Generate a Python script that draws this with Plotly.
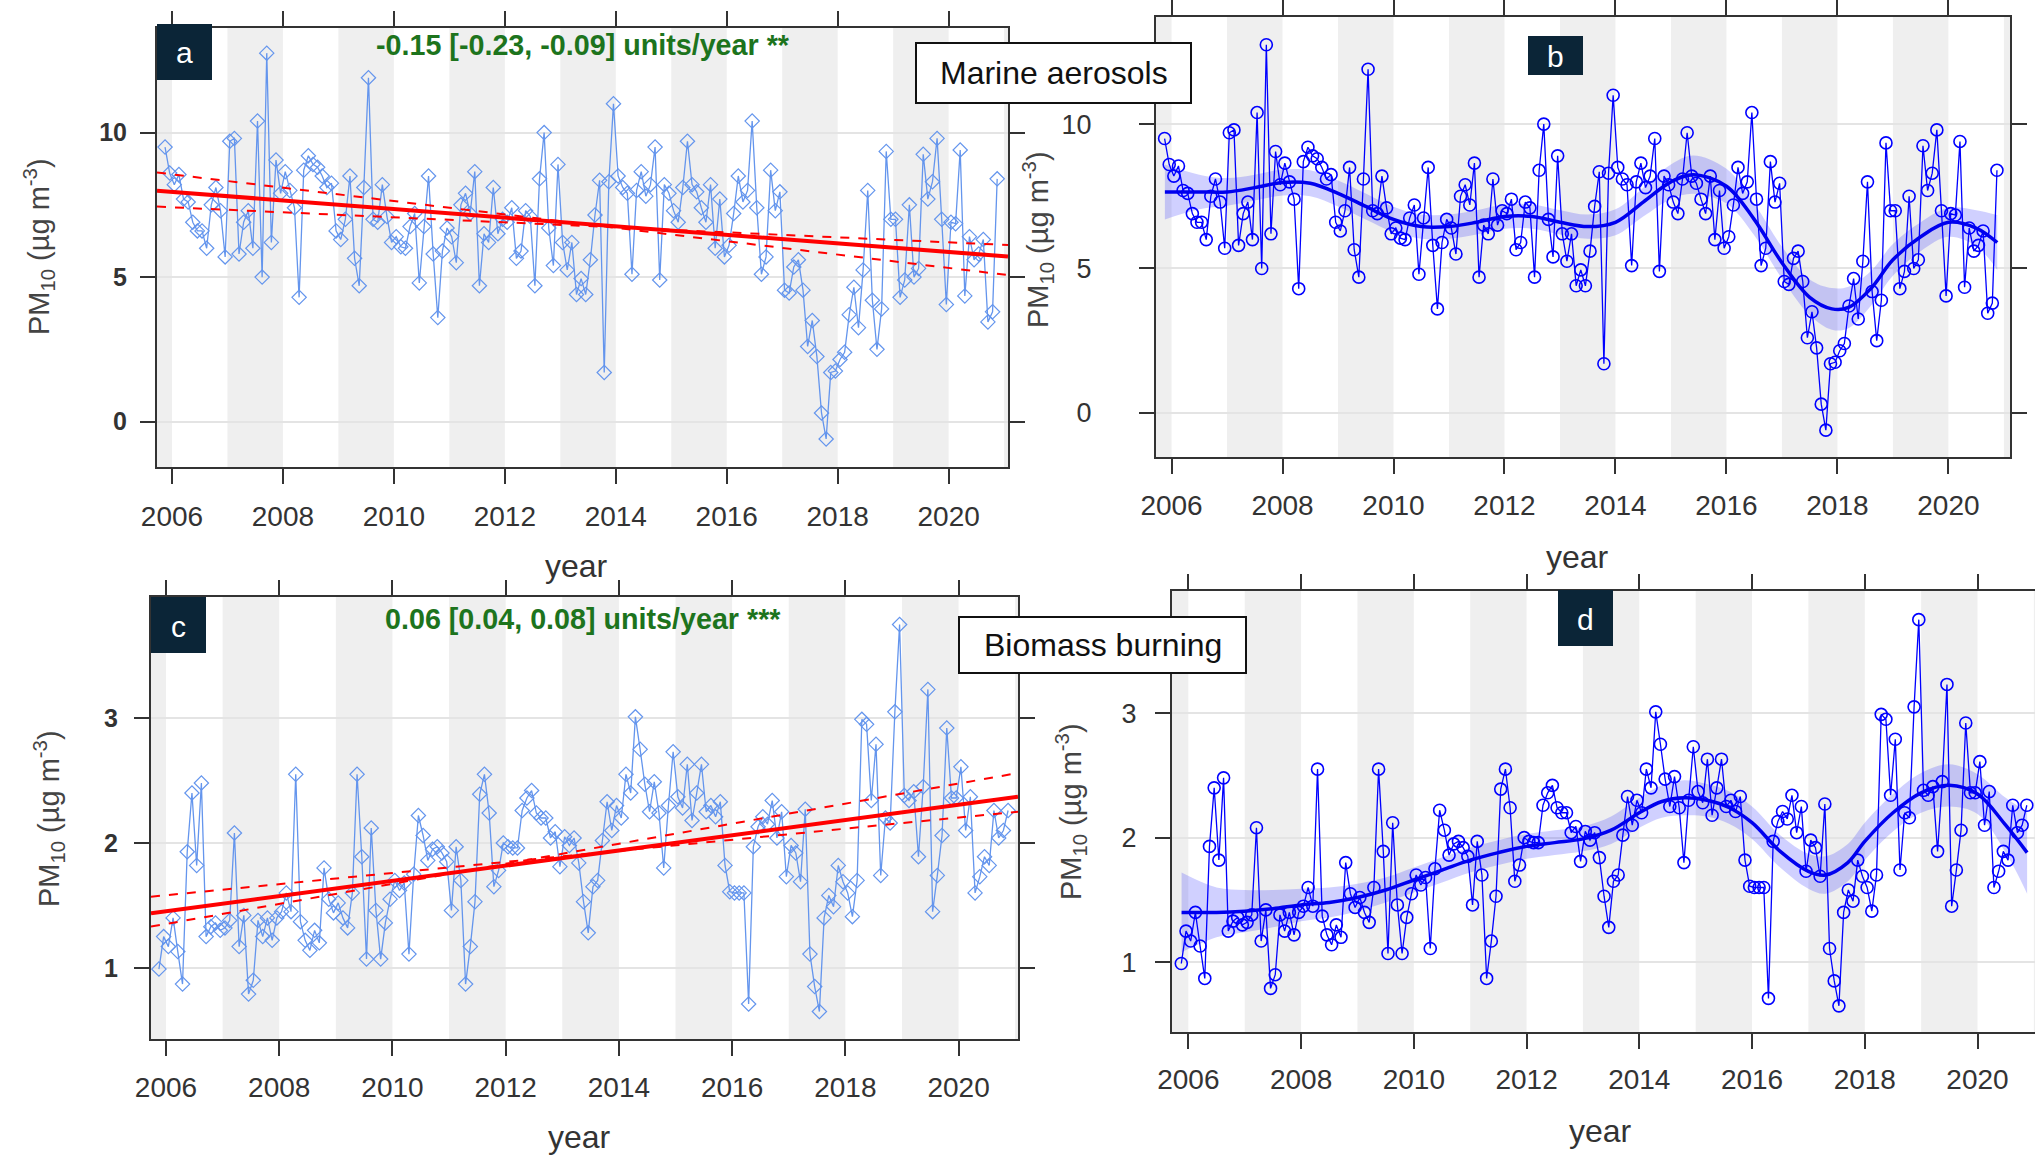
import plotly.graph_objects as go

W, H = 2035, 1155

# ---------------- data ----------------
# monthly means, Nov 2005 .. Nov 2020 (plotted at mid-month, decimal years)
months = [round(2005 + (10.5 + k) / 12, 4) for k in range(181)]

marine = [
    9.5, 8.6, 8.2, 8.55, 7.7, 7.6, 6.9, 6.6, 6.6, 6.0, 7.5, 8.1,
    7.3, 5.7, 9.7, 9.8, 5.8, 6.9, 7.3, 6.0, 10.4, 5.0, 12.75, 6.2,
    9.05, 7.9, 8.65, 8.0, 7.4, 4.3, 8.7, 9.2, 8.9, 8.8, 8.5, 8.1,
    8.25, 6.6, 6.3, 7.0, 8.5, 5.65, 4.7, 8.1, 11.9, 7.0, 6.9, 8.2,
    7.1, 6.2, 6.4, 6.05, 6.0, 6.75, 7.2, 4.8, 6.75, 8.5, 5.8, 3.6,
    5.9, 6.7, 6.4, 5.5, 7.5, 7.9, 7.2, 8.65, 4.7, 6.5, 6.2, 8.1,
    6.5, 7.0, 6.9, 7.4, 5.65, 5.9, 7.3, 7.1, 4.7, 8.4, 10.0, 6.7,
    5.4, 8.9, 6.2, 5.25, 6.2, 4.4, 4.95, 4.4, 5.6, 7.15, 8.35, 1.7,
    8.3, 11.0, 8.5, 8.1, 7.9, 5.1, 8.0, 8.65, 7.8, 8.2, 9.5, 4.9,
    8.2, 7.9, 7.3, 6.9, 8.1, 9.7, 8.2, 7.95, 7.4, 6.9, 8.2, 6.0,
    7.7, 5.7, 6.1, 7.2, 8.5, 7.6, 8.0, 10.4, 7.4, 5.1, 5.7, 8.7,
    7.3, 7.95, 4.55, 4.45, 5.35, 5.6, 4.55, 2.6, 3.5, 2.25, 0.3, -0.6,
    1.7, 1.75, 2.15, 2.4, 3.7, 4.65, 3.25, 5.25, 8.0, 4.2, 2.5, 3.9,
    9.35, 7.0, 7.0, 4.3, 4.9, 7.5, 5.0, 5.3, 9.25, 7.7, 8.3, 9.8,
    7.0, 4.05, 6.9, 6.85, 9.4, 4.35, 6.4, 5.6, 5.8, 6.3, 3.45, 3.8, 8.4,
]

biomass = [
    0.99, 1.25, 1.17, 1.40, 1.13, 0.87, 1.93, 2.40, 1.82, 2.48, 1.25, 1.33,
    1.36, 1.30, 1.32, 1.38, 2.08, 1.17, 1.42, 0.79, 0.90, 1.38, 1.25, 1.40,
    1.22, 1.40, 1.45, 1.60, 1.45, 2.55, 1.37, 1.22, 1.14, 1.30, 1.20, 1.80,
    1.55, 1.44, 1.52, 1.40, 1.32, 1.60, 2.55, 1.89, 1.07, 2.12, 1.46, 1.07,
    1.36, 1.55, 1.70, 1.62, 1.68, 1.11, 1.75, 2.22, 2.06, 1.86, 1.95, 1.97,
    1.92, 1.85, 1.46, 1.97, 1.70, 0.87, 1.17, 1.53, 2.39, 2.55, 2.24, 1.65,
    1.78, 2.00, 1.97, 1.96, 1.96, 2.26, 2.36, 2.42, 2.24, 2.20, 2.20, 2.04,
    2.09, 1.81, 2.05, 1.98, 2.04, 1.84, 1.53, 1.28, 1.65, 1.70, 2.02, 2.33,
    2.10, 2.30, 2.20, 2.55, 2.40, 3.01, 2.75, 2.47, 2.25, 2.49, 2.24, 1.80,
    2.30, 2.73, 2.37, 2.28, 2.63, 2.18, 2.40, 2.63, 2.25, 2.30, 2.21, 2.33,
    1.82, 1.61, 1.60, 1.60, 1.60, 0.71, 1.97, 2.13, 2.21, 2.15, 2.34, 2.04,
    2.25, 1.73, 1.98, 1.92, 1.69, 2.27, 1.11, 0.85, 0.65, 1.40, 1.58, 1.49,
    1.82, 1.69, 1.60, 1.41, 1.70, 2.99, 2.95, 2.34, 2.79, 1.74, 2.20, 2.16,
    3.05, 3.75, 2.38, 2.34, 2.41, 1.89, 2.45, 3.23, 1.45, 1.74, 2.06, 2.92,
    2.36, 2.36, 2.61, 2.10, 2.37, 1.60, 1.73, 1.89, 1.82, 2.26, 2.04, 2.10, 2.26,
]

# Theil-Sen trend lines (value at left / right edge of panel)
marine_trend_x = [2005.73, 2021.07]
marine_trend = [7.99, 5.71]
marine_ci_1 = [8.62, 5.07]
marine_ci_2 = [7.44, 6.11]
marine_trend_text = "-0.15 [-0.23, -0.09] units/year **"

biomass_trend_x = [2005.735, 2021.05]
biomass_trend = [1.436, 2.37]
biomass_ci_1 = [1.57, 2.25]
biomass_ci_2 = [1.33, 2.56]
biomass_trend_text = "0.06 [0.04, 0.08] units/year ***"

# smooth trend with confidence band
marine_smooth_x = [2005.88, 2006.5, 2007.0, 2007.5, 2008.0, 2008.5, 2009.0, 2009.5,
                   2010.0, 2010.5, 2011.0, 2011.5, 2012.0, 2012.5, 2013.0, 2013.5,
                   2014.0, 2014.5, 2015.0, 2015.4, 2016.0, 2016.5, 2017.0, 2017.5,
                   2017.9, 2018.2, 2018.6, 2019.0, 2019.5, 2020.0, 2020.5, 2020.88]
marine_smooth = [7.65, 7.65, 7.65, 7.8, 7.98, 7.95, 7.6, 7.15,
                 6.7, 6.45, 6.45, 6.6, 6.8, 6.8, 6.6, 6.45,
                 6.6, 7.3, 8.0, 8.25, 7.85, 6.7, 5.2, 4.0,
                 3.6, 3.65, 4.3, 5.3, 6.1, 6.6, 6.4, 5.9]
marine_smooth_hw = [0.95, 0.6, 0.48, 0.45, 0.45, 0.45, 0.45, 0.45,
                    0.44, 0.42, 0.42, 0.42, 0.42, 0.42, 0.42, 0.42,
                    0.45, 0.5, 0.6, 0.66, 0.6, 0.55, 0.55, 0.62,
                    0.72, 0.72, 0.6, 0.55, 0.5, 0.5, 0.62, 0.95]

biomass_smooth_x = [2005.88, 2006.5, 2007.0, 2007.5, 2008.0, 2008.5, 2009.0, 2009.5,
                    2010.0, 2010.5, 2011.0, 2011.5, 2012.0, 2012.5, 2013.0, 2013.5,
                    2014.0, 2014.4, 2014.8, 2015.2, 2015.6, 2016.0, 2016.5, 2017.0,
                    2017.3, 2017.7, 2018.0, 2018.5, 2019.0, 2019.5, 2020.0, 2020.5, 2020.88]
biomass_smooth = [1.40, 1.40, 1.41, 1.43, 1.46, 1.48, 1.52, 1.58,
                  1.66, 1.74, 1.82, 1.88, 1.93, 1.96, 1.99, 2.06,
                  2.20, 2.29, 2.32, 2.30, 2.24, 2.12, 1.89, 1.73,
                  1.70, 1.80, 1.97, 2.20, 2.36, 2.42, 2.35, 2.10, 1.88]
biomass_smooth_hw = [0.32, 0.2, 0.17, 0.15, 0.13, 0.12, 0.11, 0.1,
                     0.1, 0.1, 0.1, 0.1, 0.1, 0.1, 0.1, 0.11,
                     0.12, 0.13, 0.14, 0.13, 0.13, 0.13, 0.13, 0.14,
                     0.15, 0.15, 0.15, 0.15, 0.16, 0.17, 0.16, 0.22, 0.33]

year_ticks = [2006, 2008, 2010, 2012, 2014, 2016, 2018, 2020]
marine_yticks = [0, 5, 10]
biomass_yticks = [1, 2, 3]
shaded_years = [2005, 2007, 2009, 2011, 2013, 2015, 2017, 2019, 2021]

# ---------------- styling ----------------
FONT = "Liberation Sans, Arial, sans-serif"
FRAME = "#333333"
GRID = "#e4e4e4"
BAND = "#efefef"
LABEL_BG = "#0b2537"
GREEN = "#1d741d"


def xdom(x0, x1):
    return [x0 / W, x1 / W]


def ydom(y0, y1):
    return [1 - y1 / H, 1 - y0 / H]


def px(x):
    return x / W


def py(y):
    return 1 - y / H


panels = [
    # suffix, x px, y px, xrange, yrange, yticks, ylabel standoff, xlabel standoff, right frame, bold y labels
    ("", (157, 1008), (28, 467), [2005.73, 2021.07], [-1.57, 13.62], marine_yticks, 8, 8, True, True),
    ("2", (1156, 2010), (17, 457), [2005.72, 2021.11], [-1.53, 13.71], marine_yticks, 42, 7, True, False),
    ("3", (151, 1018), (597, 1039), [2005.735, 2021.05], [0.43, 3.97], biomass_yticks, 11, 7, True, True),
    ("4", (1172, 2035), (591, 1032), [2005.71, 2021.02], [0.44, 3.98], biomass_yticks, 13, 6, False, False),
]

fig = go.Figure()
layout = {}
shapes = []
for suf, (x0, x1), (y0, y1), xr, yr, yt, ystand, xstand, right, bold in panels:
    xa = "xaxis" + suf
    ya = "yaxis" + suf
    xr_id = "x" + suf
    yr_id = "y" + suf
    layout[xa] = dict(
        domain=xdom(x0, x1), range=xr, anchor=yr_id, automargin=False,
        tickmode="array", tickvals=year_ticks, ticktext=[str(t) for t in year_ticks],
        ticks="outside", ticklen=15, tickwidth=2, tickcolor=FRAME,
        showline=True, linecolor=FRAME, linewidth=2, mirror="ticks",
        showgrid=False, zeroline=False,
        tickfont=dict(family=FONT, size=28, color="#333333"),
        ticklabelstandoff=xstand,
    )
    layout[ya] = dict(
        domain=ydom(y0, y1), range=yr, anchor=xr_id, automargin=False,
        tickmode="array", tickvals=yt, ticktext=[str(t) for t in yt],
        ticks="outside", ticklen=15, tickwidth=2, tickcolor=FRAME,
        showline=True, linecolor=FRAME, linewidth=2,
        mirror="ticks" if right else False,
        showgrid=True, gridcolor=GRID, gridwidth=2, zeroline=False,
        tickfont=dict(family=FONT, size=25 if bold else 27, color="#333333",
                      weight="bold" if bold else "normal"),
        ticklabelstandoff=ystand,
    )
    for yr_ in shaded_years:
        shapes.append(dict(type="rect", xref=xr_id, yref=yr_id + " domain",
                           x0=yr_, x1=yr_ + 1, y0=0, y1=1,
                           fillcolor=BAND, line=dict(width=0), layer="below"))

# ---- panel a : marine, Theil-Sen ----
fig.add_trace(go.Scatter(x=months, y=marine, mode="lines+markers", xaxis="x", yaxis="y",
                         line=dict(color="#6495ED", width=1.3),
                         marker=dict(symbol="diamond-open", size=11, color="#6495ED",
                                     line=dict(width=1.2, color="#6495ED"))))
for ys, dash, wd in [(marine_ci_1, "dash", 2), (marine_ci_2, "dash", 2), (marine_trend, "solid", 4)]:
    fig.add_trace(go.Scatter(x=marine_trend_x, y=ys, mode="lines", xaxis="x", yaxis="y",
                             line=dict(color="#ff0000", width=wd, dash=dash)))

# ---- panel b : marine, smooth ----
m_hi = [m + h for m, h in zip(marine_smooth, marine_smooth_hw)]
m_lo = [m - h for m, h in zip(marine_smooth, marine_smooth_hw)]
fig.add_trace(go.Scatter(x=marine_smooth_x, y=m_hi, mode="lines", xaxis="x2", yaxis="y2",
                         line=dict(width=0, shape="spline"), hoverinfo="skip"))
fig.add_trace(go.Scatter(x=marine_smooth_x, y=m_lo, mode="lines", xaxis="x2", yaxis="y2",
                         line=dict(width=0, shape="spline"), fill="tonexty",
                         fillcolor="rgba(40,40,255,0.22)", hoverinfo="skip"))
fig.add_trace(go.Scatter(x=months, y=marine, mode="lines+markers", xaxis="x2", yaxis="y2",
                         line=dict(color="#0000ff", width=1.3),
                         marker=dict(symbol="circle-open", size=12, color="#0000ff",
                                     line=dict(width=1.6, color="#0000ff"))))
fig.add_trace(go.Scatter(x=marine_smooth_x, y=marine_smooth, mode="lines", xaxis="x2", yaxis="y2",
                         line=dict(color="#0000ee", width=3.5, shape="spline")))

# ---- panel c : biomass, Theil-Sen ----
fig.add_trace(go.Scatter(x=months, y=biomass, mode="lines+markers", xaxis="x3", yaxis="y3",
                         line=dict(color="#6495ED", width=1.3),
                         marker=dict(symbol="diamond-open", size=11, color="#6495ED",
                                     line=dict(width=1.2, color="#6495ED"))))
for ys, dash, wd in [(biomass_ci_1, "dash", 2), (biomass_ci_2, "dash", 2), (biomass_trend, "solid", 4)]:
    fig.add_trace(go.Scatter(x=biomass_trend_x, y=ys, mode="lines", xaxis="x3", yaxis="y3",
                             line=dict(color="#ff0000", width=wd, dash=dash)))

# ---- panel d : biomass, smooth ----
b_hi = [m + h for m, h in zip(biomass_smooth, biomass_smooth_hw)]
b_lo = [m - h for m, h in zip(biomass_smooth, biomass_smooth_hw)]
fig.add_trace(go.Scatter(x=biomass_smooth_x, y=b_hi, mode="lines", xaxis="x4", yaxis="y4",
                         line=dict(width=0, shape="spline"), hoverinfo="skip"))
fig.add_trace(go.Scatter(x=biomass_smooth_x, y=b_lo, mode="lines", xaxis="x4", yaxis="y4",
                         line=dict(width=0, shape="spline"), fill="tonexty",
                         fillcolor="rgba(40,40,255,0.22)", hoverinfo="skip"))
fig.add_trace(go.Scatter(x=months, y=biomass, mode="lines+markers", xaxis="x4", yaxis="y4",
                         line=dict(color="#0000ff", width=1.3),
                         marker=dict(symbol="circle-open", size=12, color="#0000ff",
                                     line=dict(width=1.6, color="#0000ff"))))
fig.add_trace(go.Scatter(x=biomass_smooth_x, y=biomass_smooth, mode="lines", xaxis="x4", yaxis="y4",
                         line=dict(color="#0000ee", width=3.5, shape="spline")))

# ---------------- labels, boxes ----------------
annotations = []
label_boxes = [("a", 157, 212, 24, 80), ("b", 1528, 1583, 36, 75),
               ("c", 151, 206, 597, 653), ("d", 1558, 1613, 590, 646)]
for letter, bx0, bx1, by0, by1 in label_boxes:
    shapes.append(dict(type="rect", xref="paper", yref="paper",
                       x0=px(bx0), x1=px(bx1), y0=py(by1), y1=py(by0),
                       fillcolor=LABEL_BG, line=dict(width=0), layer="above"))
    annotations.append(dict(text=letter, xref="paper", yref="paper",
                            x=px((bx0 + bx1) / 2), y=py((by0 + by1) / 2 + 1),
                            xanchor="center", yanchor="middle", showarrow=False,
                            font=dict(family=FONT, size=30, color="white")))

text_boxes = [("Marine aerosols", 916, 1191, 43, 103), ("Biomass burning", 959, 1246, 617, 673)]
for txt, bx0, bx1, by0, by1 in text_boxes:
    shapes.append(dict(type="rect", xref="paper", yref="paper",
                       x0=px(bx0), x1=px(bx1), y0=py(by1), y1=py(by0),
                       fillcolor="white", line=dict(width=2, color="#111111"), layer="above"))
    annotations.append(dict(text=txt, xref="paper", yref="paper",
                            x=px((bx0 + bx1) / 2), y=py((by0 + by1) / 2),
                            xanchor="center", yanchor="middle", showarrow=False,
                            font=dict(family=FONT, size=32, color="#111111")))

# trend texts
for txt, cx, cy in [(marine_trend_text, 583, 45), (biomass_trend_text, 583, 619)]:
    annotations.append(dict(text=txt, xref="paper", yref="paper", x=px(cx), y=py(cy),
                            xanchor="center", yanchor="middle", showarrow=False,
                            font=dict(family=FONT, size=28.7, color=GREEN, weight="bold")))

# axis titles
ytitle = "PM<sub>10</sub> (µg m<sup>-3</sup>)"
for cx, cy in [(39, 247), (1038, 240), (49, 819), (1071, 812)]:
    annotations.append(dict(text=ytitle, xref="paper", yref="paper", x=px(cx), y=py(cy),
                            xanchor="center", yanchor="middle", textangle=-90, showarrow=False,
                            font=dict(family=FONT, size=29, color="#444444")))
for cx, cy in [(576, 566), (1577, 557), (579, 1137), (1600, 1131)]:
    annotations.append(dict(text="year", xref="paper", yref="paper", x=px(cx), y=py(cy),
                            xanchor="center", yanchor="middle", showarrow=False,
                            font=dict(family=FONT, size=32, color="#333333")))

fig.update_layout(
    width=W, height=H, margin=dict(l=0, r=0, t=0, b=0, pad=0, autoexpand=False),
    paper_bgcolor="white", plot_bgcolor="white", showlegend=False,
    shapes=shapes, annotations=annotations, **layout,
)

fig.write_html("out.html",
               post_script="document.body.style.margin='0';document.body.style.overflow='hidden';")
